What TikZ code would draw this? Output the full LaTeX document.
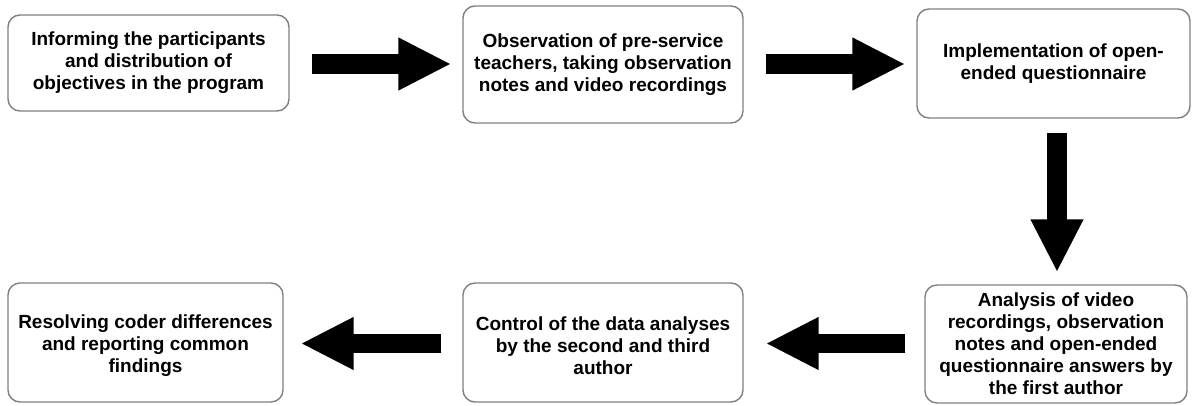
\documentclass[tikz,border=0pt]{standalone}
\usepackage{fontspec}
\setmainfont{Liberation Sans}
\usetikzlibrary{arrows.meta}
\tikzset{
  boxtext/.style={align=center, inner sep=0pt, font=\fontsize{19}{22}\selectfont\bfseries},
  stepbox/.style={draw=black!50, line width=1.4pt, rounded corners=12pt, fill=white, boxtext},
  bigarrow/.style={line width=19.5pt, -{Triangle[length=53pt,width=49pt]}}
}
\begin{document}
\begin{tikzpicture}[x=1pt,y=-1pt]
\fill[white] (0,0) rectangle (1192,406);
\useasboundingbox (0,0) rectangle (1192,406);
\node[stepbox, minimum width=281pt, minimum height=96pt] (b1) at (148.5,63)
  {Informing the participants\\and distribution of\\objectives in the program};
\node[stepbox, minimum width=280pt, minimum height=117pt] (b2) at (603,64.5)
  {Observation of pre-service\\teachers, taking observation\\notes and video recordings};
\node[stepbox, minimum width=273pt, minimum height=109pt] (b3) at (1053.5,63.5)
  {Implementation of open-\\ended questionnaire};
\node[stepbox, minimum width=262pt, minimum height=118pt] (b4) at (1056,344)
  {Analysis of video\\recordings, observation\\notes and open-ended\\questionnaire answers by\\the first author};
\node[stepbox, minimum width=280pt, minimum height=119pt,
  label={[boxtext, yshift=-3pt]center:Control of the data analyses\\by the second and third\\author}] (b5) at (603,342.5) {};
\node[stepbox, minimum width=275pt, minimum height=119pt,
  label={[boxtext, yshift=-3pt]center:Resolving coder differences\\and reporting common\\findings}] (b6) at (145.5,342.5) {};
\draw[bigarrow] ([xshift=22pt,yshift=-1pt]b1.east) -- ([xshift=-11pt,yshift=-1pt]b1.east -| b2.west);
\draw[bigarrow] ([xshift=22pt,yshift=0.5pt]b2.east) -- ([xshift=-11pt,yshift=0.5pt]b2.east -| b3.west);
\draw[bigarrow] ([xshift=3.5pt,yshift=-14pt]b3.south) -- ([xshift=1pt,yshift=12pt]b4.north);
\draw[bigarrow] ([xshift=-19pt,yshift=0.5pt]b4.west) -- ([xshift=22pt,yshift=0.5pt]b4.west -| b5.east);
\draw[bigarrow] ([xshift=-21pt,yshift=-1pt]b5.west) -- ([xshift=17pt,yshift=-1pt]b5.west -| b6.east);
\end{tikzpicture}
\end{document}
